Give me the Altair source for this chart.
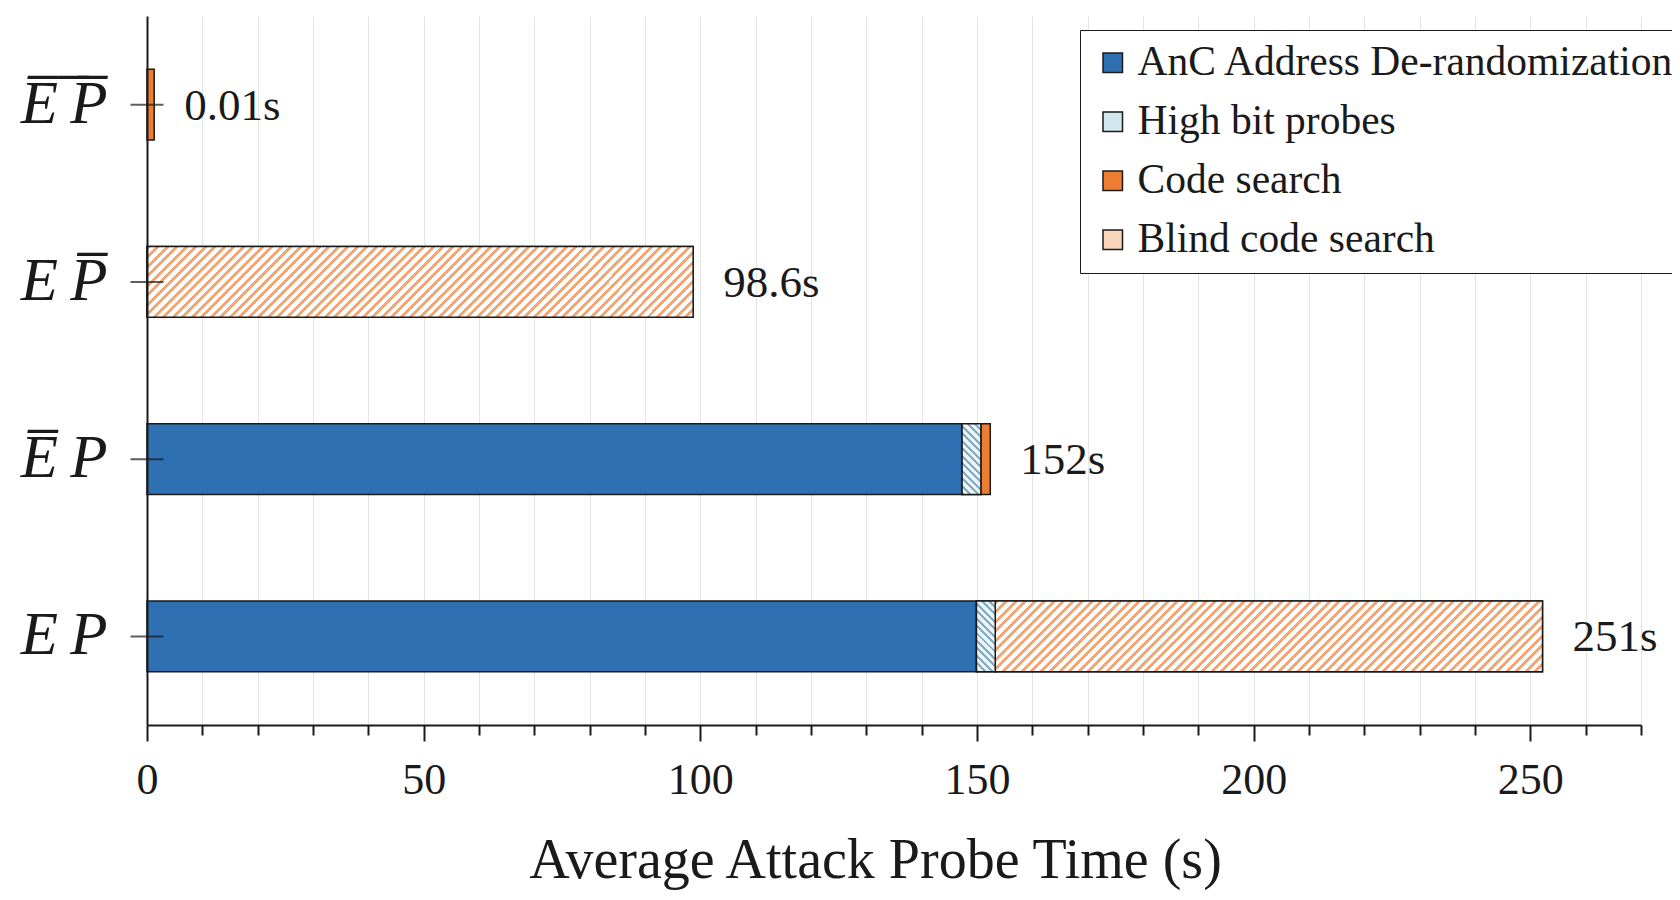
import altair as alt
import pandas as pd

# ---- data ----
categories = ["E\u0305\u2009\u0305P\u0305", "E\u2009P\u0305", "E\u0305\u2009P", "E\u2009P"]
segments = ["AnC Address De-randomization", "High bit probes", "Code search", "Blind code search"]
anc = [0.0, 0.0, 147.3, 149.9]
high_bit = [0.0, 0.0, 3.4, 3.4]
code_search = [1.3, 0.0, 1.7, 0.0]
blind = [0.0, 98.7, 0.0, 98.9]
total_labels = ["0.01s", "98.6s", "152s", "251s"]
x_ticks = list(range(0, 271, 10))

# ---- styling ----
seg_colors = ["#2e70b2", "#d3e7f0", "#ed7d31", "#f8d4bb"]
FONT = "Liberation Serif"
INK = "#1a1a1a"
W_PLOT, H_PLOT = 1494, 709
X_MAX = 270
P_IN, P_OUT = 0.6, 0.3

rows = []
for ci, cat in enumerate(categories):
    for si, (seg, vals) in enumerate(zip(segments, [anc, high_bit, code_search, blind])):
        if vals[ci] > 0:
            rows.append({"cat": cat, "seg": seg, "idx": si, "value": vals[ci]})
df = pd.DataFrame(rows)

totals = pd.DataFrame({
    "cat": categories,
    "end": [a + b + c + d for a, b, c, d in zip(anc, high_bit, code_search, blind)],
    "label": total_labels,
})
cats_df = pd.DataFrame({"cat": categories})

px_per_unit = W_PLOT / X_MAX
step = H_PLOT / (len(categories) - P_IN + 2 * P_OUT)
band_h = step * (1 - P_IN)


def hatch(width_px, height_px, spacing, frac, line_col, bg_col, forward=True):
    W, H = width_px, height_px
    s = (1 / H + 1 / W) / (1 / H ** 2 + 1 / W ** 2)
    n = max(1, round((W + H) / spacing))
    stops = []
    for k in range(n):
        t0 = round(k / n, 5)
        t1 = round((k + frac) / n, 5)
        t2 = round((k + 1) / n, 5)
        stops += [
            alt.GradientStop(color=line_col, offset=t0),
            alt.GradientStop(color=line_col, offset=t1),
            alt.GradientStop(color=bg_col, offset=t1),
            alt.GradientStop(color=bg_col, offset=t2),
        ]
    if forward:
        x1, y1, x2, y2 = 0, 0, s / H, s / W
    else:
        x1, y1, x2, y2 = 0, 1, s / H, 1 - s / W
    return alt.LinearGradient(gradient="linear", stops=stops,
                              x1=x1, y1=y1, x2=x2, y2=y2)


blind_w = max(blind) * px_per_unit
hb_w = max(high_bit) * px_per_unit
grad_blind = hatch(blind_w, band_h, 9.5, 0.42, "#f3a673", "#ffffff", forward=True)
grad_high = hatch(hb_w, band_h, 7.5, 0.40, "#86aac2", "#eaf5fa", forward=False)

x_scale = alt.Scale(domain=[0, X_MAX], nice=False, zero=True)
y_scale = alt.Scale(paddingInner=P_IN, paddingOuter=P_OUT)

x_axis = alt.Axis(
    values=x_ticks,
    labelExpr="datum.value % 50 === 0 ? datum.label : ''",
    labelOverlap=False,
    labelFlush=False,
    labelFont=FONT,
    labelFontSize=44,
    labelColor=INK,
    labelPadding=17,
    tickColor=INK,
    tickWidth=2,
    tickSize={"condition": {"test": "datum.value % 50 === 0", "value": 16}, "value": 10},
    domainColor=INK,
    domainWidth=2,
    grid=True,
    gridColor="#e4e4e4",
    gridWidth=1,
    title="Average Attack Probe Time (s)",
    titleFont=FONT,
    titleFontSize=56,
    titleFontWeight="normal",
    titleColor=INK,
    titleX=728,
    titleY=152,
    titleAlign="center",
    titleBaseline="alphabetic",
)

y_axis = alt.Axis(
    title=None,
    ticks=False,
    tickSize=0,
    labelFont=FONT,
    labelFontStyle="italic",
    labelFontSize=61,
    labelColor=INK,
    labelPadding=40,
    domainColor=INK,
    domainWidth=2,
    grid=False,
    zindex=1,
)

base = alt.Chart(df).transform_stack(
    stack="value",
    groupby=["cat"],
    sort=[alt.SortField("idx", order="ascending")],
    as_=["x0", "x1"],
)

bars = base.mark_bar(stroke=INK, strokeWidth=1.5).encode(
    x=alt.X("x0:Q", scale=x_scale, axis=x_axis),
    x2="x1:Q",
    y=alt.Y("cat:N", sort=categories, scale=y_scale, axis=y_axis),
    color=alt.Color(
        "seg:N",
        scale=alt.Scale(domain=segments, range=seg_colors),
        legend=alt.Legend(
            title=None,
            orient="none",
            legendX=933,
            legendY=14,
            fillColor="#ffffff",
            strokeColor=INK,
            padding=12,
            rowPadding=16,
            symbolType="square",
            symbolSize=380,
            symbolStrokeColor=INK,
            symbolStrokeWidth=1.5,
            symbolOpacity=1,
            labelFont=FONT,
            labelFontSize=41.5,
            labelColor=INK,
            labelOffset=4,
            labelLimit=800,
        ),
    ),
)

hatch_blind = base.transform_filter(alt.datum.seg == "Blind code search").mark_bar(
    fill=grad_blind, stroke=INK, strokeWidth=1.5
).encode(
    x=alt.X("x0:Q"),
    x2="x1:Q",
    y=alt.Y("cat:N", sort=categories),
)

hatch_high = base.transform_filter(alt.datum.seg == "High bit probes").mark_bar(
    fill=grad_high, stroke=INK, strokeWidth=1.5
).encode(
    x=alt.X("x0:Q"),
    x2="x1:Q",
    y=alt.Y("cat:N", sort=categories),
)

cross_ticks = alt.Chart(cats_df).mark_tick(
    orient="horizontal", size=33, thickness=2, color=INK
).encode(
    y=alt.Y("cat:N", sort=categories),
    x=alt.datum(0),
)

labels = alt.Chart(totals).mark_text(
    align="left", baseline="middle", dx=30, dy=1, fontSize=45, font=FONT, color=INK
).encode(
    x=alt.X("end:Q"),
    y=alt.Y("cat:N", sort=categories),
    text="label:N",
)

chart = alt.layer(bars, hatch_blind, hatch_high, cross_ticks, labels).properties(
    width=W_PLOT,
    height=H_PLOT,
    autosize=alt.AutoSizeParams(type="none"),
    padding={"left": 139, "top": 8, "right": 31, "bottom": 167},
    background="#ffffff",
).configure_view(stroke=None)

chart.save("out.html", embed_options={"renderer": "svg", "actions": False})
